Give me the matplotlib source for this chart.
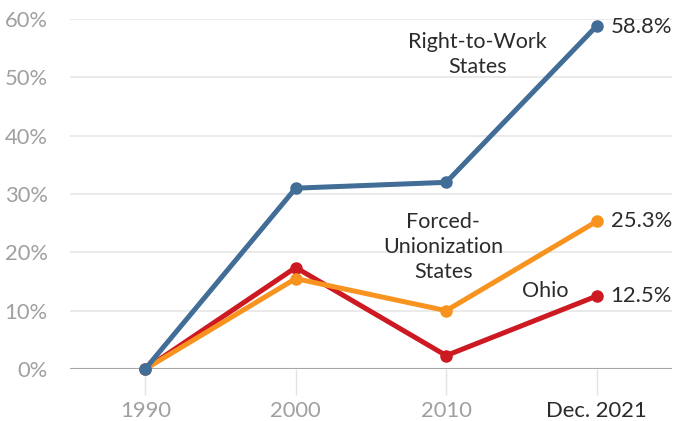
import matplotlib
matplotlib.use("Agg")
import matplotlib.pyplot as plt

years = ["1990", "2000", "2010", "Dec. 2021"]
right_to_work = [0, 31.0, 32.0, 58.8]
forced_union = [0, 15.5, 10.0, 25.3]
ohio = [0, 17.4, 2.3, 12.5]
yticks = [0, 10, 20, 30, 40, 50, 60]

plt.rcParams['font.family'] = ['Lato', 'DejaVu Sans']

blue = '#416d97'
orange = '#f7931e'
red = '#cc1922'

fig = plt.figure(figsize=(6.78, 4.21), dpi=100)
ax = fig.add_axes([0.1032, 0.1235, 0.8878, 0.8314])

x = list(range(len(years)))
for vals, c in [(ohio, red), (forced_union, orange), (right_to_work, blue)]:
    ax.plot(x, vals, color=c, lw=3.6, marker='o', ms=8, clip_on=False, zorder=3)

ax.set_xlim(-0.5, 3.5)
ax.set_ylim(0, 60)
ax.set_yticks(yticks)
ax.set_yticklabels([f"{v}%" for v in yticks])
ax.set_xticks(x)
ax.set_xticklabels(years)

for v in yticks[1:]:
    ax.axhline(v, color='#e8e8e8', lw=1.3, zorder=1)
ax.axhline(0, color='#a6a6a6', lw=1.5, zorder=2)

for s in ax.spines.values():
    s.set_visible(False)
ax.tick_params(axis='y', length=0, labelsize=15.8, labelcolor='#a0a0a0', pad=16)
ax.tick_params(axis='x', length=19, width=1, color='#e3e3e3', labelsize=15.8,
               labelcolor='#a0a0a0', pad=4)
ax.get_xticklabels()[-1].set_color('#2b2b2b')

txt = dict(fontsize=15.5, color='#2b2b2b', ha='center', va='center', linespacing=1.32)
ax.text(2.21, 53.9, "Right-to-Work\nStates", **txt)
ax.text(1.98, 20.9, "Forced-\nUnionization\nStates", **txt)
ax.text(2.66, 13.4, "Ohio", **txt)

for vals in [right_to_work, forced_union, ohio]:
    ax.annotate(f"{vals[-1]}%", (3, vals[-1]), xytext=(10, -1 if vals[-1] > 50 else 0),
                textcoords='offset points', ha='left', va='center',
                fontsize=15.8, color='#2b2b2b')

fig.savefig("out.png", dpi=100)
